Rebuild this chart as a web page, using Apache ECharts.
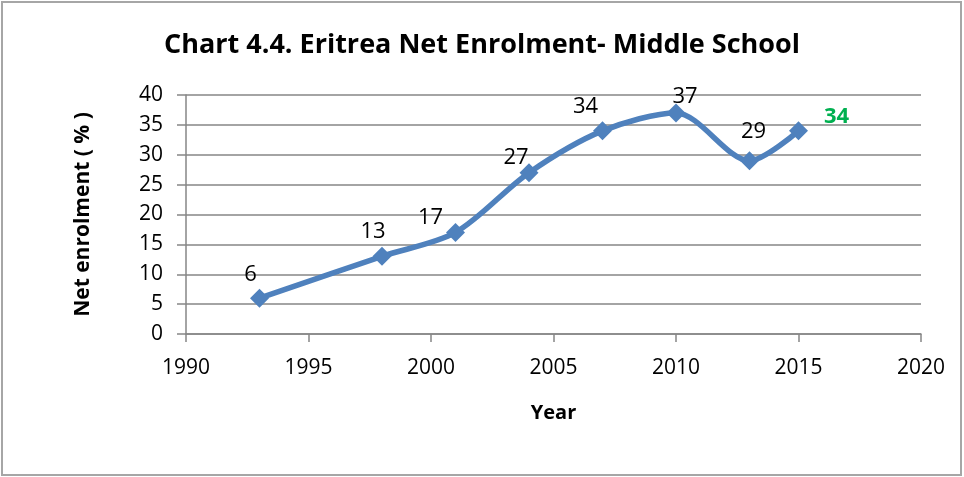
<!DOCTYPE html>
<html>
<head>
<meta charset="utf-8">
<script src="https://cdn.jsdelivr.net/npm/echarts@6/dist/echarts.min.js"></script>
<style>
  html, body { margin: 0; padding: 0; background: #fff; }
  #chart { width: 964px; height: 477px; }
</style>
</head>
<body>
<div id="chart"></div>
<script>
// Net enrolment rate, middle school, Eritrea
const years = [1993, 1998, 2001, 2004, 2007, 2010, 2013, 2015];
const enrolment = [6, 13, 17, 27, 34, 37, 29, 34];
const xTicks = [1990, 1995, 2000, 2005, 2010, 2015, 2020];
const yTicks = [0, 5, 10, 15, 20, 25, 30, 35, 40];

// label placement around each marker (dx, dy in px)
const labelOffsets = [[-9, -23], [-9, -25], [-25, -15], [-13, -15], [-17, -24], [9, -16], [4, -29], [38, -14]];

const FONT = '"Open Sans", "Liberation Sans", sans-serif';
const GRID = '#868686';

const seriesData = years.map((yr, i) => {
  const last = i === years.length - 1;
  return {
    value: [yr, enrolment[i]],
    label: {
      offset: labelOffsets[i],
      color: last ? '#00B050' : '#000',
      fontWeight: last ? 'bold' : 'normal'
    }
  };
});

const chart = echarts.init(document.getElementById('chart'), null, { renderer: 'canvas' });
chart.setOption({
  animation: false,
  backgroundColor: '#fff',
  title: {
    text: 'Chart 4.4. Eritrea Net Enrolment- Middle School',
    left: 'center',
    top: 27,
    textStyle: { fontFamily: FONT, fontSize: 27, fontWeight: 'bold', color: '#000' }
  },
  graphic: [{
    type: 'rect',
    shape: { x: 2, y: 2, width: 959, height: 473 },
    style: { fill: 'none', stroke: '#a6a6a6', lineWidth: 2 },
    silent: true
  }],
  grid: { left: 186, right: 43, top: 95, bottom: 143 },
  xAxis: {
    type: 'value',
    min: xTicks[0],
    max: xTicks[xTicks.length - 1],
    interval: 5,
    name: 'Year',
    nameLocation: 'middle',
    nameGap: 69,
    nameTextStyle: { fontFamily: FONT, fontSize: 20, fontWeight: 'bold', color: '#000' },
    axisLine: { lineStyle: { color: GRID, width: 1.5 } },
    axisTick: { show: true, length: 8, lineStyle: { color: GRID, width: 1.5 } },
    axisLabel: { fontFamily: FONT, fontSize: 21, color: '#000', margin: 24,
      formatter: v => xTicks.includes(v) ? String(v) : '' },
    splitLine: { show: false }
  },
  yAxis: {
    type: 'value',
    min: yTicks[0],
    max: yTicks[yTicks.length - 1],
    interval: 5,
    name: 'Net enrolment ( % )',
    nameLocation: 'middle',
    nameGap: 92,
    nameRotate: 90,
    nameTextStyle: { fontFamily: FONT, fontSize: 21, fontWeight: 'bold', color: '#000' },
    axisLine: { show: true, lineStyle: { color: GRID, width: 1.5 } },
    axisTick: { show: true, length: 9, lineStyle: { color: GRID, width: 1.5 } },
    axisLabel: { fontFamily: FONT, fontSize: 21, color: '#000', margin: 23,
      formatter: v => yTicks.includes(v) ? String(v) : '' },
    splitLine: { show: true, lineStyle: { color: GRID, width: 1.5 } }
  },
  series: [{
    type: 'line',
    data: seriesData,
    smooth: 0.3,
    symbol: 'diamond',
    symbolSize: 19,
    lineStyle: { color: '#4F81BD', width: 5.5 },
    itemStyle: { color: '#4F81BD' },
    label: {
      show: true,
      position: 'inside',
      align: 'center',
      verticalAlign: 'middle',
      fontFamily: FONT,
      fontSize: 22,
      formatter: p => String(p.value[1])
    }
  }]
});
</script>
</body>
</html>
